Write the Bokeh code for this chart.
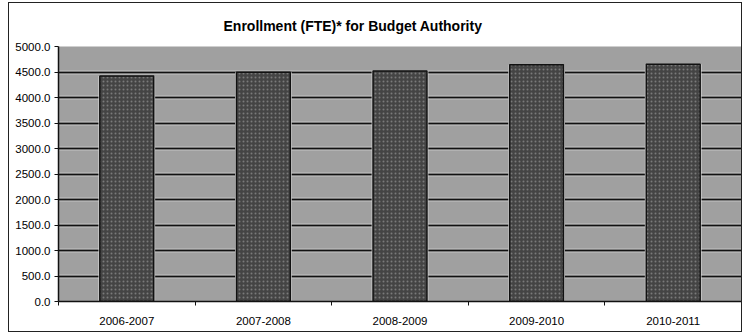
from bokeh.plotting import figure
from bokeh.models import FixedTicker, Grid, Title, Range1d, NumeralTickFormatter
from bokeh.embed import file_html
from bokeh.resources import INLINE

# ---- data ----
categories = ["2006-2007", "2007-2008", "2008-2009", "2009-2010", "2010-2011"]
enrollment = [4420.0, 4495.0, 4520.0, 4640.0, 4650.0]
y_ticks = [0, 500, 1000, 1500, 2000, 2500, 3000, 3500, 4000, 4500, 5000]
title_text = "Enrollment (FTE)* for Budget Authority"

xs = [i + 0.5 for i in range(len(categories))]

p = figure(width=734, height=330, output_backend="svg", toolbar_location=None,
           x_range=Range1d(0, len(categories)), y_range=Range1d(0, 5000),
           min_border_left=49, min_border_right=2, min_border_top=43, min_border_bottom=32,
           background_fill_color="#a0a0a0", border_fill_color="white",
           outline_line_color=None, margin=(2, 0, 0, 8),
           styles={"border": "1px solid #222"})

p.add_layout(Title(text=title_text, text_font="Liberation Sans", text_font_size="14px",
                   text_font_style="bold", text_color="black", align="left",
                   offset=165, standoff=25), "above")

# horizontal grid: light halo + dark line
p.ygrid.ticker = FixedTicker(ticks=y_ticks)
p.ygrid.grid_line_color = "#e8e8e8"
p.ygrid.grid_line_width = 3.5
g2 = Grid(dimension=1, ticker=FixedTicker(ticks=y_ticks), grid_line_color="#111111",
          grid_line_width=1.8)
p.add_layout(g2)
p.xgrid.grid_line_color = None

# bar halo and bars
p.vbar(x=xs, top=enrollment, width=0.415, fill_color="#dddddd", line_color=None)
p.vbar(x=xs, top=enrollment, width=0.395, fill_color="#444444", line_color="#111111",
       line_width=1.5, hatch_pattern="dot", hatch_color="#7a7a7a", hatch_scale=4,
       hatch_weight=1)

# y axis
p.yaxis.ticker = FixedTicker(ticks=y_ticks)
p.yaxis.formatter = NumeralTickFormatter(format="0.0")
p.yaxis.major_label_text_font = "Liberation Sans"
p.yaxis.major_label_text_font_size = "11.5px"
p.yaxis.major_label_text_color = "black"
p.yaxis.axis_line_color = "#111111"
p.yaxis.axis_line_width = 1.5
p.yaxis.major_tick_line_color = "#111111"
p.yaxis.major_tick_out = 4
p.yaxis.major_tick_in = 0
p.yaxis.minor_tick_line_color = None
p.yaxis.major_label_standoff = 4

# x axis: labels at centres, ticks at category boundaries
p.xaxis.ticker = FixedTicker(ticks=xs, minor_ticks=list(range(len(categories) + 1)))
p.xaxis.major_label_overrides = {x: c for x, c in zip(xs, categories)}
p.xaxis.major_label_text_font = "Liberation Sans"
p.xaxis.major_label_text_font_size = "11.5px"
p.xaxis.major_label_text_color = "black"
p.xaxis.axis_line_color = "#111111"
p.xaxis.axis_line_width = 1.5
p.xaxis.major_tick_line_color = None
p.xaxis.minor_tick_line_color = "#111111"
p.xaxis.minor_tick_out = 4
p.xaxis.minor_tick_in = 0
p.xaxis.major_label_standoff = 9

open("out.html", "w").write(file_html(p, INLINE))
